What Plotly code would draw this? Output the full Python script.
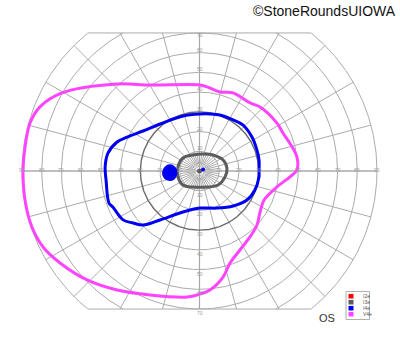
import numpy as np
import plotly.graph_objects as go

# ---------------- data (meridian angle in deg, eccentricity in deg) ----------------
legend_labels = ["I2e", "I3e", "I4e", "V4e"]
legend_colors = ["#ff0000", "#5c5c5c", "#0000f0", "#ff44ff"]

v4e_angle = [0.6, 8.2, 15.9, 24.5, 31.7, 46.6, 53.4, 66.8, 75.5, 84.9, 89.7, 120, 133.5,
             150.4, 158.1, 164.2, 172.2, 179.7, 189.4, 198.5, 205.9, 213.4, 224.1, 235.3,
             248.2, 264.4, 270.2, 275.0, 282.5, 288.3, 297.1, 307.4, 316.8, 325.9, 335.8,
             348.4, 356.3]
v4e_ecc = [49.4, 49.9, 48.2, 46.5, 46.2, 44.7, 43.0, 43.1, 41.4, 42.8, 43.6, 50.3, 60.8,
           80.2, 87.2, 89.3, 89.3, 89.5, 89.7, 89.6, 88.2, 84.7, 79.4, 73.4,
           67.7, 64.2, 62.4, 60.6, 55.1, 49.2, 45.0, 42.1, 40.0, 37.1, 35.9,
           40.1, 46.0]

i4e_angle = [0, 10.5, 20, 32.9, 46.5, 56.7, 69.9, 79.6, 89.5, 106.7, 130, 144.7, 155,
             160.6, 168.9, 177.6, 185.5, 199.5, 202.6, 212.6, 218, 223.7, 231.1, 248,
             270.8, 295.3, 313.9, 328.6, 341.1, 354.3]
i4e_ecc = [30.2, 30.7, 31.0, 31.7, 32.1, 31.0, 30.2, 29.4, 28.9, 29.1, 31.1, 35.1, 40.6,
           44.3, 47.3, 47.9, 47.6, 48.7, 47.6, 46.0, 42.8, 39.7, 31.9, 22.4,
           18.8, 20.8, 24.6, 28.2, 29.7, 30.3]

i3e_angle = [6, 25, 50, 78, 112, 142, 170, 195, 220, 248, 270, 295, 323, 347]
i3e_ecc = [14.0, 13.2, 10.6, 8.8, 8.8, 10.7, 11.1, 11.3, 11.0, 8.8, 8.2, 9.0, 11.8, 13.3]

# blind spot (I4e) : centre and outline radii
blindspot_center = (-15.0, -0.8)
blindspot_angle = [0, 30, 60, 90, 120, 150, 180, 210, 240, 270, 300, 330]
blindspot_r = [3.4, 3.5, 3.7, 3.8, 3.7, 3.5, 3.6, 3.7, 3.9, 3.9, 3.8, 3.5]

# small fixation marks (x, y in deg)
fix_i3e = (0.0, 0.0)
fix_i4e = (1.8, 0.8)

ring_values = [10, 20, 30, 40, 50, 60, 70, 80, 90]
vert_ring_values = [10, 20, 30, 40, 50, 60, 70]

# ---------------- layout constants ----------------
W, H = 400, 352
CX, CY = 199.5, 171.0
S = 1.972  # px per degree
TOP, BOT = 70.0, -70.0
GRID = "#ababab"


def pol(a, r):
    a = np.radians(np.asarray(a, float))
    r = np.asarray(r, float)
    return r * np.cos(a), r * np.sin(a)


def closed(x, y):
    return list(x) + [x[0]], list(y) + [y[0]]


fig = go.Figure()

# ---- grid circles (clipped) ----
gx, gy = [], []
for r in ring_values:
    if r == 30:
        continue
    t = np.linspace(0, 360, 721)
    x, y = pol(t, np.full_like(t, r))
    mask = (y <= TOP + 1e-9) & (y >= BOT - 1e-9)
    x = np.where(mask, x, np.nan)
    y = np.where(mask, y, np.nan)
    gx += list(x) + [None]
    gy += list(y) + [None]
# top / bottom boundary
for yb in (TOP, BOT):
    xe = np.sqrt(90 ** 2 - yb ** 2)
    gx += [-xe, xe, None]
    gy += [yb, yb, None]
# radial lines every 15 deg
for a in range(0, 360, 15):
    if a % 90 == 0:
        continue
    s = np.sin(np.radians(a))
    lim = TOP if s > 0 else -BOT
    rend = min(90.0, lim / abs(s)) if abs(s) > 1e-9 else 90.0
    r0 = 2.0
    x, y = pol([a, a], [r0, rend])
    gx += list(x) + [None]
    gy += list(y) + [None]
# finer inner spokes
for a in np.arange(7.5, 360, 15):
    x, y = pol([a, a], [3.5, 10.0])
    gx += list(x) + [None]
    gy += list(y) + [None]
fig.add_trace(go.Scatter(x=gx, y=gy, mode="lines", line=dict(color=GRID, width=1),
                         hoverinfo="skip", showlegend=False))
# vertical axis
fig.add_trace(go.Scatter(x=[0, 0], y=[BOT, TOP], mode="lines",
                         line=dict(color="#a8a8a8", width=1.2), hoverinfo="skip", showlegend=False))
# horizontal axis
fig.add_trace(go.Scatter(x=[-90, 90], y=[0, 0], mode="lines",
                         line=dict(color="#c0c0c0", width=2.2), hoverinfo="skip", showlegend=False))
# 30 deg circle darker
t = np.linspace(0, 360, 361)
x, y = pol(t, np.full_like(t, 30.0))
fig.add_trace(go.Scatter(x=x, y=y, mode="lines", line=dict(color="#6a6a6a", width=1.4),
                         hoverinfo="skip", showlegend=False))

# ---- isopters ----
x, y = closed(*pol(v4e_angle, v4e_ecc))
fig.add_trace(go.Scatter(x=x, y=y, mode="lines", line=dict(color=legend_colors[3], width=3,
                         shape="spline", smoothing=1.0), hoverinfo="skip", showlegend=False))
x, y = closed(*pol(i4e_angle, i4e_ecc))
fig.add_trace(go.Scatter(x=x, y=y, mode="lines", line=dict(color=legend_colors[2], width=3,
                         shape="spline", smoothing=1.0), hoverinfo="skip", showlegend=False))
x, y = closed(*pol(i3e_angle, i3e_ecc))
fig.add_trace(go.Scatter(x=x, y=y, mode="lines", line=dict(color=legend_colors[1], width=3,
                         shape="spline", smoothing=1.0), hoverinfo="skip", showlegend=False))
bx, by = pol(blindspot_angle, blindspot_r)
bx, by = closed(bx + blindspot_center[0], by + blindspot_center[1])
fig.add_trace(go.Scatter(x=bx, y=by, mode="lines", fill="toself", fillcolor=legend_colors[2],
                         line=dict(color=legend_colors[2], width=1.5, shape="spline"),
                         hoverinfo="skip", showlegend=False))
fig.add_trace(go.Scatter(x=[fix_i3e[0]], y=[fix_i3e[1]], mode="markers",
                         marker=dict(color=legend_colors[1], size=5), hoverinfo="skip", showlegend=False))
fig.add_trace(go.Scatter(x=[fix_i4e[0]], y=[fix_i4e[1]], mode="markers",
                         marker=dict(color=legend_colors[2], size=4), hoverinfo="skip", showlegend=False))

# ---- tick labels ----
ann = []
lab_font = dict(family="Liberation Sans, Arial", size=5, color="#9a9a9a")
for r in ring_values:
    for sgn in (-1, 1):
        ann.append(dict(x=sgn * r, y=0, text=str(r), showarrow=False, font=lab_font,
                        xanchor="center", yanchor="middle", yshift=1))
for r in vert_ring_values:
    ann.append(dict(x=0, y=min(r + 1.5, TOP - 0.9), text=str(r), showarrow=False,
                    font=lab_font, xanchor="center", yanchor="middle"))
    ann.append(dict(x=0, y=-(r + 2.0), text=str(r), showarrow=False,
                    font=lab_font, xanchor="center", yanchor="middle"))

# watermark, eye label
ann.append(dict(xref="paper", yref="paper", x=398 / W, y=1 - 1 / H, text="©StoneRoundsUIOWA",
                showarrow=False, xanchor="right", yanchor="top",
                font=dict(family="Liberation Sans, Arial", size=14, color="#111111")))
ann.append(dict(xref="paper", yref="paper", x=327 / W, y=1 - 318 / H, text="OS",
                showarrow=False, xanchor="center", yanchor="middle",
                font=dict(family="Liberation Sans, Arial", size=11, color="#333333")))

# ---- legend (drawn) ----
shapes = [dict(type="rect", xref="paper", yref="paper", x0=346 / W, x1=369.5 / W,
               y0=1 - 319.5 / H, y1=1 - 291.5 / H, line=dict(color="#b0b0b0", width=1),
               fillcolor="white")]
for i, (lab, col) in enumerate(zip(legend_labels, legend_colors)):
    yc = 296.2 + 6.0 * i
    shapes.append(dict(type="rect", xref="paper", yref="paper", x0=348.5 / W, x1=353.5 / W,
                       y0=1 - (yc + 2.3) / H, y1=1 - (yc - 2.3) / H, line=dict(width=0),
                       fillcolor=col))
    ann.append(dict(xref="paper", yref="paper", x=360.5 / W, y=1 - yc / H, text=lab,
                    showarrow=False, xanchor="left", yanchor="middle",
                    font=dict(family="Liberation Sans, Arial", size=5, color="#555555")))

fig.update_layout(
    width=W, height=H, margin=dict(l=0, r=0, t=0, b=0),
    paper_bgcolor="white", plot_bgcolor="white",
    xaxis=dict(range=[-CX / S, (W - CX) / S], visible=False, fixedrange=True),
    yaxis=dict(range=[-(H - CY) / S, CY / S], visible=False, fixedrange=True),
    annotations=ann, shapes=shapes, showlegend=False,
)
fig.write_html("out.html")
